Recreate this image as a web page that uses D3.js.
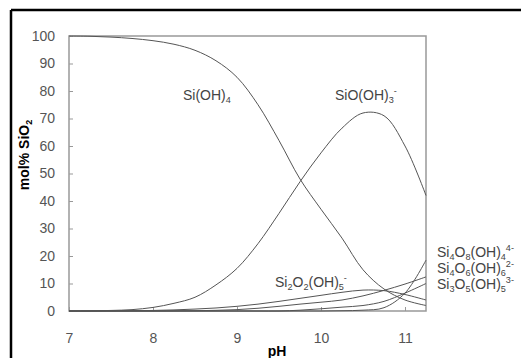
<!DOCTYPE html>
<html>
<head>
<meta charset="utf-8">
<script src="https://cdn.jsdelivr.net/npm/d3@7"></script>
<style>
body { margin: 0; background: #fff; }
svg { display: block; font-family: "Liberation Sans", Arial, sans-serif; }
</style>
</head>
<body>
<div id="chart"></div>
<script>
// pH grid shared by every species
const pH = [7, 7.25, 7.5, 7.75, 8, 8.25, 8.5, 8.75, 9, 9.25, 9.5, 9.75, 10, 10.25, 10.5, 10.75, 11, 11.25];

// mol% SiO2
const siOH4     = [100, 99.9, 99.6, 99.1, 98.3, 97, 94.8, 91, 85, 75, 62, 48, 37, 26.5, 15, 8, 4, 2];
const siOOH3    = [0, 0.05, 0.2, 0.5, 1.3, 2.8, 5, 9.5, 15.5, 24.5, 35.5, 47, 57.5, 66.5, 72, 71, 60, 42];
const si2O2OH5  = [0, 0, 0.05, 0.1, 0.2, 0.4, 0.7, 1.1, 1.7, 2.5, 3.5, 4.6, 5.7, 6.8, 7.6, 7.4, 6, 4];
const si4O6OH6  = [0, 0, 0, 0, 0, 0.05, 0.1, 0.25, 0.5, 1, 1.7, 2.5, 3.2, 4, 5.5, 7.5, 9.8, 12.4];
const si3O5OH5  = [0, 0, 0, 0, 0, 0, 0, 0, 0, 0, 0, 0.3, 0.8, 1.4, 2, 3.5, 6.5, 10];
const si4O8OH4  = [0, 0, 0, 0, 0, 0, 0, 0, 0, 0, 0, 0, 0, 0.1, 0.3, 1.2, 6.5, 18.5];

const xTicks = [7, 8, 9, 10, 11];
const yTicks = [0, 10, 20, 30, 40, 50, 60, 70, 80, 90, 100];

const W = 521, H = 358;
const margin = {top: 36, right: 95, bottom: 47, left: 69};
const width = W - margin.left - margin.right,
      height = H - margin.top - margin.bottom;

const svg = d3.select("#chart").append("svg")
  .attr("width", W).attr("height", H);

// black frame on top and left
svg.append("line").attr("x1", 11).attr("y1", 10).attr("x2", W).attr("y2", 10)
  .attr("stroke", "#000").attr("stroke-width", 2.5);
svg.append("line").attr("x1", 11).attr("y1", 10).attr("x2", 11).attr("y2", H)
  .attr("stroke", "#000").attr("stroke-width", 2.5);

const g = svg.append("g").attr("transform", `translate(${margin.left},${margin.top})`);

const x = d3.scaleLinear().domain([7, 11.25]).range([0, width]);
const y = d3.scaleLinear().domain([0, 100]).range([height, 0]);

// axes with short inward ticks
const xAxis = g.append("g").attr("transform", `translate(0,${height})`)
  .call(d3.axisBottom(x).tickValues(xTicks).tickSize(-4).tickPadding(22).tickFormat(d3.format("d")));
const yAxis = g.append("g")
  .call(d3.axisLeft(y).tickValues(yTicks).tickSize(-4).tickPadding(14));
[xAxis, yAxis].forEach(a => {
  a.select(".domain").remove();
  a.selectAll("line").attr("stroke", "#999");
  a.selectAll("text").attr("font-size", 14).attr("fill", "#555")
    .attr("font-family", "'Liberation Sans', Arial, sans-serif");
});

// plot box
g.append("rect").attr("width", width).attr("height", height)
  .attr("fill", "none").attr("stroke", "#999").attr("stroke-width", 1.5);

const series = [siOH4, siOOH3, si2O2OH5, si4O6OH6, si3O5OH5, si4O8OH4];
const line = d3.line()
  .x((d, i) => x(pH[i]))
  .y(d => y(Math.max(0, d)))
  .curve(d3.curveCatmullRom.alpha(0.5));

g.selectAll("path.species").data(series).join("path")
  .attr("class", "species")
  .attr("fill", "none")
  .attr("stroke", "#555")
  .attr("stroke-width", 1)
  .attr("d", line);

// chemical labels: parts are [text, "sub"|"sup"|""]
function label(px, py, parts, size) {
  const t = svg.append("text").attr("x", px).attr("y", py)
    .attr("font-size", size).attr("fill", "#444");
  let cur = 0;
  parts.forEach(p => {
    const s = t.append("tspan").text(p[0]);
    let target = 0;
    if (p[1] === "sub") { target = 3; s.attr("font-size", size * 0.65); }
    if (p[1] === "sup") { target = -6; s.attr("font-size", size * 0.65); }
    if (target !== cur) s.attr("dy", target - cur);
    cur = target;
  });
}
label(183, 100, [["Si(OH)", ""], ["4", "sub"]], 14);
label(335, 100, [["SiO(OH)", ""], ["3", "sub"], ["-", "sup"]], 14);
label(275, 287, [["Si", ""], ["2", "sub"], ["O", ""], ["2", "sub"], ["(OH)", ""], ["5", "sub"], ["-", "sup"]], 14);

label(437, 257, [["Si", ""], ["4", "sub"], ["O", ""], ["8", "sub"], ["(OH)", ""], ["4", "sub"], ["4-", "sup"]], 14);
label(437, 273, [["Si", ""], ["4", "sub"], ["O", ""], ["6", "sub"], ["(OH)", ""], ["6", "sub"], ["2-", "sup"]], 14);
label(437, 289, [["Si", ""], ["3", "sub"], ["O", ""], ["5", "sub"], ["(OH)", ""], ["5", "sub"], ["3-", "sup"]], 14);

// axis titles
svg.append("text").attr("transform", "translate(29,155) rotate(-90)")
  .attr("text-anchor", "middle").attr("font-size", 14).attr("font-weight", "bold")
  .call(t => {
    t.append("tspan").text("mol% SiO");
    t.append("tspan").text("2").attr("font-size", 9).attr("dy", 3);
  });
svg.append("text").attr("x", 277).attr("y", 356).attr("text-anchor", "middle")
  .attr("font-size", 14).attr("font-weight", "bold").text("pH");
</script>
</body>
</html>
